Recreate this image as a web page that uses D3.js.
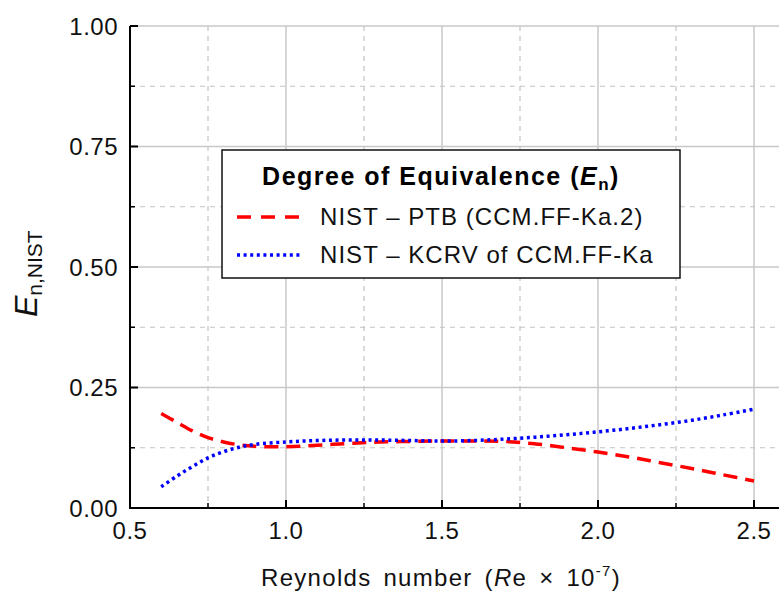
<!DOCTYPE html>
<html><head><meta charset="utf-8">
<script src="https://cdn.jsdelivr.net/npm/d3@7"></script>
<style>
html,body{margin:0;padding:0;background:#fff;}
svg{display:block;font-family:"Liberation Sans",Arial,sans-serif;}
</style></head>
<body><svg id="c" width="779" height="592"></svg>
<script>
const reValues = [0.6,0.65,0.7,0.75,0.8,0.85,0.9,1.0,1.1,1.2,1.3,1.4,1.5,1.6,1.7,1.8,1.9,2.0,2.1,2.2,2.3,2.4,2.5];
const enPTB  = [0.196,0.178,0.160,0.146,0.137,0.131,0.128,0.127,0.130,0.134,0.137,0.138,0.139,0.139,0.138,0.133,0.125,0.116,0.106,0.094,0.082,0.069,0.056];
const enKCRV = [0.044,0.066,0.086,0.104,0.117,0.126,0.132,0.137,0.140,0.141,0.141,0.140,0.139,0.140,0.143,0.147,0.152,0.158,0.165,0.173,0.182,0.193,0.205];
const xMajor = [0.5,1.0,1.5,2.0,2.5];
const xMinor = [0.75,1.25,1.75,2.25];
const yMajor = [0,0.25,0.5,0.75,1.0];
const yMinor = [0.125,0.375,0.625,0.875];
const seriesNames = ["NIST \u2013 PTB (CCM.FF-Ka.2)", "NIST \u2013 KCRV of CCM.FF-Ka"];

const svg = d3.select("#c");
const x = d3.scaleLinear().domain([0.5, 2.5]).range([130, 754]);
const y = d3.scaleLinear().domain([0, 1]).range([508, 26]);
const xr = 779;

const grid = svg.append("g");
grid.selectAll(".vmaj").data(xMajor.slice(1)).enter().append("line")
  .attr("x1", d=>x(d)).attr("x2", d=>x(d)).attr("y1", y(1)).attr("y2", y(0))
  .attr("stroke", "#c8c8c8").attr("stroke-width", 1.5);
grid.selectAll(".vmin").data(xMinor).enter().append("line")
  .attr("x1", d=>x(d)).attr("x2", d=>x(d)).attr("y1", y(1)).attr("y2", y(0))
  .attr("stroke", "#c4c4c4").attr("stroke-width", 1.2).attr("stroke-dasharray", "5,5");
grid.selectAll(".hmaj").data(yMajor.slice(1)).enter().append("line")
  .attr("x1", 130).attr("x2", xr).attr("y1", d=>y(d)).attr("y2", d=>y(d))
  .attr("stroke", "#c8c8c8").attr("stroke-width", 1.5);
grid.selectAll(".hmin").data(yMinor).enter().append("line")
  .attr("x1", 130).attr("x2", xr).attr("y1", d=>y(d)).attr("y2", d=>y(d))
  .attr("stroke", "#c4c4c4").attr("stroke-width", 1.2).attr("stroke-dasharray", "5,5");

// curves
const line = d3.line().x(d=>x(d[0])).y(d=>y(d[1])).curve(d3.curveCatmullRom);
svg.append("path").datum(reValues.map((v,i)=>[v, enPTB[i]]))
  .attr("d", line).attr("fill","none").attr("stroke","#ff0000")
  .attr("stroke-width", 3.5).attr("stroke-dasharray","14,8");
svg.append("path").datum(reValues.map((v,i)=>[v, enKCRV[i]]))
  .attr("d", line).attr("fill","none").attr("stroke","#0000ff")
  .attr("stroke-width", 3.5).attr("stroke-dasharray","3,3.6");

// axes
svg.append("line").attr("x1",130).attr("x2",130).attr("y1",y(1)).attr("y2",y(0)+1)
  .attr("stroke","#000").attr("stroke-width",2);
svg.append("line").attr("x1",129).attr("x2",xr).attr("y1",y(0)).attr("y2",y(0))
  .attr("stroke","#000").attr("stroke-width",2);
svg.selectAll(".ytm").data(yMajor).enter().append("line")
  .attr("x1",130).attr("x2",138).attr("y1",d=>y(d)).attr("y2",d=>y(d)).attr("stroke","#000").attr("stroke-width",2);
svg.selectAll(".ytn").data(yMinor).enter().append("line")
  .attr("x1",130).attr("x2",135).attr("y1",d=>y(d)).attr("y2",d=>y(d)).attr("stroke","#000").attr("stroke-width",1.5);
svg.selectAll(".xtm").data(xMajor).enter().append("line")
  .attr("x1",d=>x(d)).attr("x2",d=>x(d)).attr("y1",y(0)).attr("y2",y(0)-8).attr("stroke","#000").attr("stroke-width",2);
svg.selectAll(".xtn").data(xMinor).enter().append("line")
  .attr("x1",d=>x(d)).attr("x2",d=>x(d)).attr("y1",y(0)).attr("y2",y(0)-5).attr("stroke","#000").attr("stroke-width",1.5);

svg.selectAll(".ylab").data(yMajor).enter().append("text")
  .attr("x",118).attr("y",d=>y(d)+8.5).attr("text-anchor","end")
  .attr("font-size",24).attr("letter-spacing","0.5").attr("fill","#111")
  .text(d=>d3.format(".2f")(d));
svg.selectAll(".xlab").data(xMajor).enter().append("text")
  .attr("x",d=>x(d)).attr("y",539).attr("text-anchor","middle")
  .attr("font-size",24).attr("letter-spacing","0.5").attr("fill","#111")
  .text(d=>d3.format(".1f")(d));

// x title
const xt = svg.append("text").attr("x",441).attr("y",586).attr("text-anchor","middle")
  .attr("font-size",24).attr("word-spacing","4").attr("letter-spacing","1.3").attr("fill","#111");
xt.append("tspan").text("Reynolds number (");
xt.append("tspan").attr("font-style","italic").text("R");
xt.append("tspan").text("e \u00d7 10");
xt.append("tspan").attr("font-size",15).attr("dy",-10).text("-7");
xt.append("tspan").attr("dy",10).text(")");

// y title
const yt = svg.append("text").attr("transform","translate(37,317) rotate(-90)")
  .attr("text-anchor","start").attr("fill","#111");
yt.append("tspan").attr("font-size",32).attr("font-style","italic").text("E");
yt.append("tspan").attr("font-size",21).attr("dy",5).text("n,NIST");

// legend
const lg = svg.append("g");
lg.append("rect").attr("x",222).attr("y",150).attr("width",458).attr("height",128)
  .attr("fill","#fff").attr("stroke","#111").attr("stroke-width",1.5);
const lt = lg.append("text").attr("x",441).attr("y",185).attr("text-anchor","middle")
  .attr("font-size",25).attr("font-weight","bold").attr("letter-spacing","1.5").attr("fill","#000");
lt.append("tspan").text("Degree of Equivalence (");
lt.append("tspan").attr("font-style","italic").text("E");
lt.append("tspan").attr("font-size",17).attr("dy",5).text("n");
lt.append("tspan").attr("dy",-5).text(")");
const legY = [225, 263];
const legStyles = [{c:"#ff0000", d:"14,10"}, {c:"#0000ff", d:"3,3.6"}];
seriesNames.forEach((n,i)=>{
  lg.append("line").attr("x1",237).attr("x2",302).attr("y1",legY[i]-8).attr("y2",legY[i]-8)
    .attr("stroke",legStyles[i].c).attr("stroke-width",3.5).attr("stroke-dasharray",legStyles[i].d);
  lg.append("text").attr("x",320).attr("y",legY[i]).attr("font-size",24).attr("letter-spacing","1.05")
    .attr("fill","#111").text(n);
});
</script></body></html>
